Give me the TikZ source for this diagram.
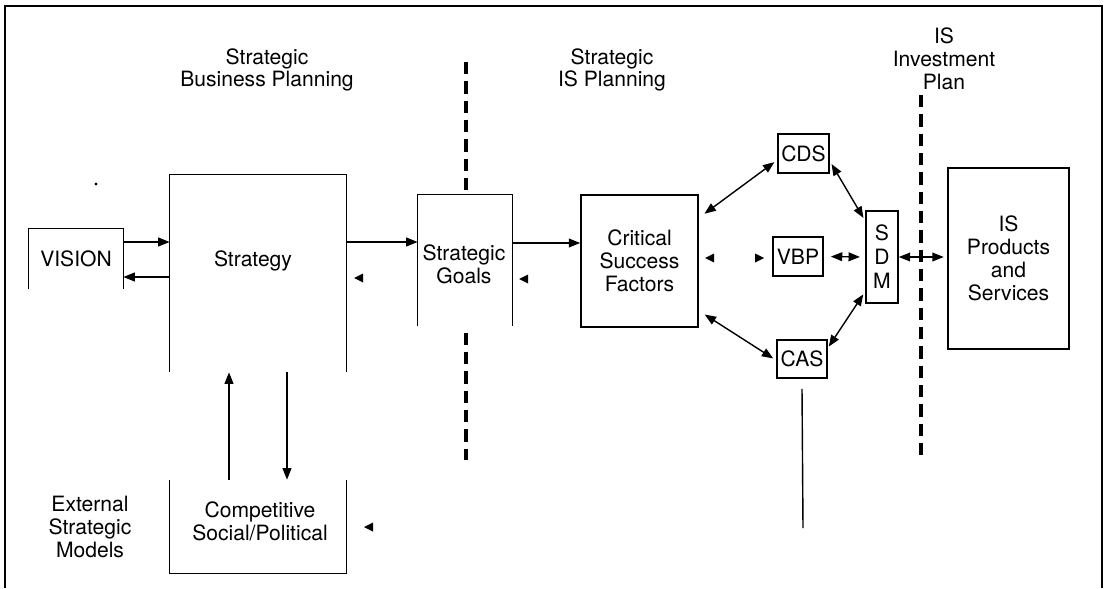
\documentclass[tikz,border=0pt]{standalone}
\usepackage{fontspec}
\setmainfont{TeX Gyre Heros}
\usetikzlibrary{arrows.meta,calc}
\begin{document}
\begin{tikzpicture}[x=0.02cm,y=-0.02cm,
  font=\fontsize{12}{13}\selectfont,
  box/.style={draw, line width=0.9pt, fill=white, inner sep=0pt, align=center},
  openbox/.style={fill=white, inner sep=0pt, align=center},
  lbl/.style={align=center, inner sep=0pt},
  arr/.style={-{Triangle[length=6.5pt,width=5pt]}, line width=0.8pt},
  darr/.style={{Triangle[length=6.5pt,width=5pt]}-{Triangle[length=6.5pt,width=5pt]}, line width=0.8pt},
  divider/.style={line width=1.8pt, dash pattern=on 7pt off 4pt},
  frameline/.style={line width=0.9pt}]
\useasboundingbox (0,0) rectangle (1105,588);

% outer frame
\draw[frameline] (5,588) -- (5,6) -- (1102,6) -- (1102,588);

% dividers
\coordinate (d1a) at (466,62);
\coordinate (d1b) at (466,460);
\coordinate (d2a) at (921,95);
\coordinate (d2b) at (921,460);
\draw[divider] (d1a) -- (d1b);
\draw[divider] (d2a) -- (d2b);

% headers
\node[lbl] (h1) at (267,70) {Strategic\\Business Planning};
\node[lbl] (h2) at (612,70) {Strategic\\IS Planning};
\node[lbl] (h3) at (944,59) {IS\\Investment\\Plan};

% boxes
\node[openbox, minimum width=1.88cm, minimum height=1.2cm] (vision) at (76,259) {VISION};
\draw[line width=0.9pt] (vision.south west) -- (vision.north west) -- (vision.north east) -- (vision.south east);

\node[openbox, minimum width=3.52cm, minimum height=3.94cm] (strategy) at (258,273.5) {};
\draw[line width=0.9pt] (strategy.south west) -- (strategy.north west) -- (strategy.north east) -- (strategy.south east);
\node[lbl] (strategylbl) at (253,261) {Strategy};

\node[openbox, minimum width=1.88cm, minimum height=2.62cm] (goals) at (465,260.5) {};
\draw[line width=0.9pt] (goals.south west) -- (goals.north west) -- (goals.north east) -- (goals.south east);
\node[lbl] (goalslbl) at (464,264) {Strategic\\Goals};

\node[box, minimum width=2.34cm, minimum height=2.64cm] (csf) at (639.5,261) {Critical\\Success\\Factors};

\node[box, minimum width=1.02cm, minimum height=0.78cm] (cds) at (803.5,153.5) {CDS};
\node[box, minimum width=1.0cm, minimum height=0.78cm] (vbp) at (798,256.5) {VBP};
\node[box, minimum width=1.0cm, minimum height=0.76cm] (cas) at (802,359) {CAS};
\node[box, minimum width=0.64cm, minimum height=1.84cm, font=\fontsize{12}{13.6}\selectfont] (sdm) at (882,257) {S\\D\\M};
\node[box, minimum width=2.42cm, minimum height=3.62cm] (isp) at (1008.5,258.5) {IS\\Products\\and\\Services};

\node[openbox, minimum width=3.52cm, minimum height=1.86cm] (comp) at (258,526.5) {};
\draw[line width=0.9pt] (comp.north west) -- (comp.south west) -- (comp.south east) -- (comp.north east);
\node[lbl] (complbl) at (260,521) {Competitive\\Social/Political};

\node[lbl] (ext) at (90,527) {External\\Strategic\\Models};

% connectors
\draw[arr] (vision.east |- 0,242) -- (strategy.west |- 0,242);
\draw[arr] (strategy.west |- 0,277) -- (vision.east |- 0,277);
\draw[arr] (strategy.east |- 0,242) -- (goals.west |- 0,242);
\draw[arr] (goals.east |- 0,243) -- (csf.west |- 0,243);
\draw[arr] (comp.north -| 229,0) -- (strategy.south -| 229,0);
\draw[arr] (strategy.south -| 287,0) -- (comp.north -| 287,0);

\draw[darr, shorten <=2pt, shorten >=4pt] (cds.194) -- (csf.36);
\draw[darr, shorten <=2pt, shorten >=2pt] (cds.344) -- (sdm.115);
\draw[darr, shorten <=4pt, shorten >=3pt] (vbp.east) -- (sdm.west);
\draw[darr, shorten >=2pt] (sdm.east) -- (isp.west |- sdm.east);
\draw[darr, shorten <=1pt, shorten >=2pt] (cas.23) -- (sdm.244);
\draw[darr, shorten <=4pt, shorten >=2pt] (csf.320) -- (cas.183);

\coordinate (casend) at (803,528);
\draw[line width=0.8pt] ($(cas.south)+(0,10)$) -- (casend);

% stray arrowheads
\fill (354,278) -- ++(9,-4.5) -- ++(0,9) -- cycle;
\fill (519,279) -- ++(9,-4.5) -- ++(0,9) -- cycle;
\fill (705,258) -- ++(9,-4.5) -- ++(0,9) -- cycle;
\fill (764,258) -- ++(-9,-4.5) -- ++(0,9) -- cycle;
\fill (364,527) -- ++(9,-4.5) -- ++(0,9) -- cycle;
\fill (96,184) circle[radius=0.9pt];
\end{tikzpicture}
\end{document}
